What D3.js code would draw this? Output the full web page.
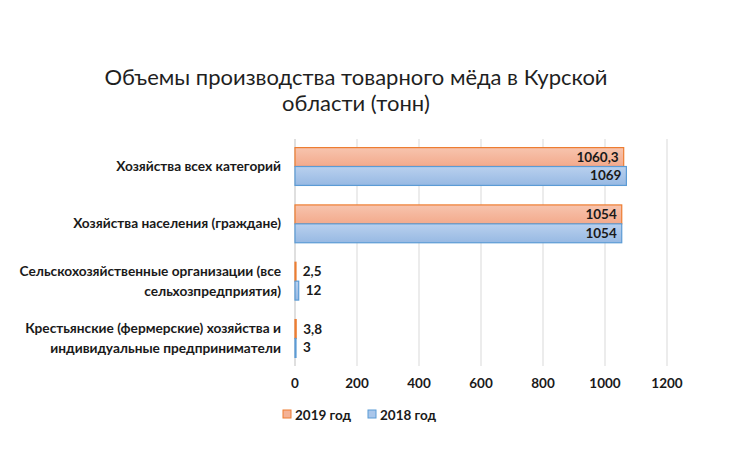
<!DOCTYPE html>
<html>
<head>
<meta charset="utf-8">
<script src="https://cdn.jsdelivr.net/npm/d3@7"></script>
<style>
  body { margin: 0; background: #fff; }
  svg { font-family: Lato, "Open Sans", sans-serif; }
</style>
</head>
<body>
<div id="chartDiv"></div>
<script>
var categories = [
	["Хозяйства всех категорий"],
	["Хозяйства населения (граждане)"],
	["Сельскохозяйственные организации (все", "сельхозпредприятия)"],
	["Крестьянские (фермерские) хозяйства и", "индивидуальные предприниматели"]
];
var values2019 = [1060.3, 1054, 2.5, 3.8];
var values2018 = [1069, 1054, 12, 3];
var labels2019 = ["1060,3", "1054", "2,5", "3,8"];
var labels2018 = ["1069", "1054", "12", "3"];
var seriesNames = ["2019 год", "2018 год"];
var xTicks = [0, 200, 400, 600, 800, 1000, 1200];

var width = 743, height = 451;
var plotLeft = 295, plotRight = 667, plotTop = 139, plotBottom = 366;

var svg = d3.select("#chartDiv").append("svg")
	.attr("width", width).attr("height", height);

var defs = svg.append("defs");
function grad(id, c1, c2) {
	var g = defs.append("linearGradient").attr("id", id)
		.attr("x1", 0).attr("y1", 0).attr("x2", 0).attr("y2", 1);
	g.append("stop").attr("offset", "0%").attr("stop-color", c1);
	g.append("stop").attr("offset", "100%").attr("stop-color", c2);
}
grad("gOrange", "#f7c4ae", "#f3aa8c");
grad("gBlue", "#b9d0ee", "#97b9e3");

var series = [
	{ name: seriesNames[0], values: values2019, labels: labels2019, fill: "url(#gOrange)", stroke: "#ed7d31", sw: "#f4b296" },
	{ name: seriesNames[1], values: values2018, labels: labels2018, fill: "url(#gBlue)", stroke: "#5b9bd5", sw: "#a9c6ea" }
];

var x = d3.scaleLinear().domain([0, 1200]).range([plotLeft, plotRight]);
var y = d3.scaleBand().domain(d3.range(categories.length)).range([plotTop, plotBottom]).paddingInner(0.34).paddingOuter(0.15);
var sub = d3.scaleBand().domain([0, 1]).range([0, y.bandwidth()]);

// title
svg.append("text").attr("x", 356).attr("y", 85).attr("text-anchor", "middle")
	.attr("font-size", 22).attr("fill", "#1f1f1f").text("Объемы производства товарного мёда в Курской");
svg.append("text").attr("x", 356).attr("y", 111).attr("text-anchor", "middle")
	.attr("font-size", 22).attr("fill", "#1f1f1f").text("области (тонн)");

// grid
svg.append("g").selectAll("line").data(xTicks.slice(1)).enter().append("line")
	.attr("x1", function(d) { return x(d); }).attr("x2", function(d) { return x(d); })
	.attr("y1", plotTop).attr("y2", plotBottom)
	.attr("stroke", "#d9d9d9").attr("stroke-width", 1);
svg.append("line").attr("x1", x(0)).attr("x2", x(0)).attr("y1", plotTop).attr("y2", plotBottom)
	.attr("stroke", "#bfbfbf");

// tick labels
svg.append("g").selectAll("text").data(xTicks).enter().append("text")
	.attr("x", function(d) { return x(d); }).attr("y", 388)
	.attr("text-anchor", "middle").attr("font-size", 13.5).attr("font-weight", "bold")
	.attr("fill", "#1a1a1a").text(function(d) { return d; });

// category labels
categories.forEach(function(lines, i) {
	var cy = y(i) + y.bandwidth() / 2;
	var t = svg.append("text").attr("text-anchor", "end").attr("font-size", 13.7)
		.attr("font-weight", "bold").attr("fill", "#1a1a1a");
	lines.forEach(function(l, j) {
		t.append("tspan").attr("x", 281)
			.attr("y", cy + 4.5 + (j - (lines.length - 1) / 2) * 20).text(l);
	});
});

// bars
series.forEach(function(s, si) {
	var g = svg.append("g");
	s.values.forEach(function(v, i) {
		var by = y(i) + sub(si);
		g.append("rect").attr("x", x(0)).attr("y", by)
			.attr("width", Math.max(x(v) - x(0), 1)).attr("height", sub.bandwidth())
			.attr("fill", s.fill).attr("stroke", s.stroke).attr("stroke-width", 1.2);
		var inside = x(v) - x(0) > 40;
		g.append("text")
			.attr("x", inside ? x(v) - 5 : x(v) + 7)
			.attr("y", by + sub.bandwidth() / 2 + 4.5)
			.attr("text-anchor", inside ? "end" : "start")
			.attr("font-size", 13.5).attr("font-weight", "bold").attr("fill", "#1a1a1a")
			.text(s.labels[i]);
	});
});

// legend
var legendX = [283, 368];
series.forEach(function(s, si) {
	svg.append("rect").attr("x", legendX[si]).attr("y", 410).attr("width", 8).attr("height", 8)
		.attr("fill", s.sw).attr("stroke", s.stroke);
	svg.append("text").attr("x", legendX[si] + 12).attr("y", 419.5)
		.attr("font-size", 13.5).attr("font-weight", "bold").attr("fill", "#1a1a1a").text(s.name);
});
</script>
</body>
</html>
